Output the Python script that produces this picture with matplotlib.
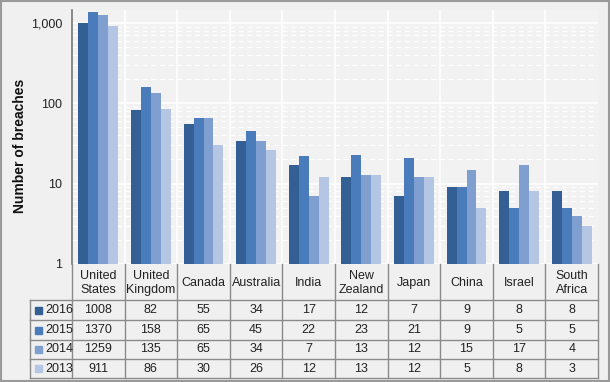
import matplotlib
matplotlib.use("Agg")
import matplotlib.pyplot as plt
import numpy as np
from matplotlib.ticker import FixedLocator, FuncFormatter, LogLocator, NullFormatter
from matplotlib.patches import Rectangle

plt.rcParams['font.family'] = ['Liberation Sans', 'DejaVu Sans']

countries = ["United\nStates", "United\nKingdom", "Canada", "Australia", "India",
             "New\nZealand", "Japan", "China", "Israel", "South\nAfrica"]
years = ["2016", "2015", "2014", "2013"]
v2016 = [1008, 82, 55, 34, 17, 12, 7, 9, 8, 8]
v2015 = [1370, 158, 65, 45, 22, 23, 21, 9, 5, 5]
v2014 = [1259, 135, 65, 34, 7, 13, 12, 15, 17, 4]
v2013 = [911, 86, 30, 26, 12, 13, 12, 5, 8, 3]
series = [v2016, v2015, v2014, v2013]
colors = ["#345f95", "#4a7bbb", "#7f9fd0", "#b5c6e4"]

W, H = 610, 382
fig = plt.figure(figsize=(W / 100, H / 100), dpi=100)
fig.patch.set_facecolor("#f0f0f0")

def fx(px):
    return px / W

def fy(py):
    return 1 - py / H

ax_l, ax_r, ax_t, ax_b = 72, 598, 10, 264
ax = fig.add_axes([fx(ax_l), fy(ax_b), fx(ax_r - ax_l), fy(ax_t) - fy(ax_b)])
ax.set_facecolor("#f2f2f2")
n = len(countries)
x = np.arange(n)
bw = 0.19
for i, (s, c) in enumerate(zip(series, colors)):
    ax.bar(x + (i - 1.5) * bw, s, width=bw, color=c, zorder=3)
ax.set_yscale("log")
ax.set_ylim(1, 1450)
ax.set_xlim(-0.5, n - 0.5)
ax.yaxis.set_major_locator(FixedLocator([1, 10, 100, 1000]))
ax.yaxis.set_major_formatter(FuncFormatter(lambda v, p: f"{int(v):,}"))
ax.yaxis.set_minor_locator(LogLocator(base=10, subs=np.arange(2, 10)))
ax.yaxis.set_minor_formatter(NullFormatter())
ax.grid(True, which="major", axis="y", color="white", lw=1.2, zorder=1)
ax.grid(True, which="minor", axis="y", color="white", lw=0.9, ls=(0, (4, 3)), zorder=1)
for b in np.arange(0.5, n - 0.5, 1):
    ax.axvline(b, color="white", lw=1.2, zorder=1)
ax.set_xticks([])
ax.tick_params(axis="y", which="major", length=0, labelsize=9,
               labelcolor="#222222", pad=7)
ax.tick_params(axis="y", which="minor", length=0)
for sp in ["top", "right", "bottom"]:
    ax.spines[sp].set_visible(False)
ax.spines["left"].set_color("#777777")
ax.spines["left"].set_linewidth(1.2)
fig.text(fx(20), fy(146), "Number of breaches", rotation=90, ha="center", va="center",
         fontsize=10, fontweight="bold", color="#111111")

# table
lc = "#8a8a8a"
col_w = (ax_r - ax_l) / n
row_tops = [300, 320, 340, 359, 378]
leg_l = 30

def hline(y, x0, x1):
    fig.add_artist(plt.Line2D([fx(x0), fx(x1)], [fy(y), fy(y)], color=lc, lw=1))

def vline(xp, y0, y1):
    fig.add_artist(plt.Line2D([fx(xp), fx(xp)], [fy(y0), fy(y1)], color=lc, lw=1))

for k in range(n + 1):
    vline(ax_l + k * col_w, ax_b, row_tops[-1])
vline(leg_l, row_tops[0], row_tops[-1])
for yv in row_tops:
    hline(yv, leg_l, ax_r)

for k, name in enumerate(countries):
    cx = ax_l + (k + 0.5) * col_w
    fig.text(fx(cx), fy((ax_b + row_tops[0]) / 2 + 1), name, ha="center", va="center",
             fontsize=9, color="#222222", linespacing=1.15)
for r, (yr, s, c) in enumerate(zip(years, series, colors)):
    cy = (row_tops[r] + row_tops[r + 1]) / 2
    fig.add_artist(Rectangle((fx(35), fy(cy + 3.5)), fx(7), fy(cy - 3.5) - fy(cy + 3.5),
                             color=c, transform=fig.transFigure))
    fig.text(fx(45), fy(cy), yr, ha="left", va="center", fontsize=9, color="#222222")
    for k, v in enumerate(s):
        cx = ax_l + (k + 0.5) * col_w
        fig.text(fx(cx), fy(cy), str(v), ha="center", va="center", fontsize=9, color="#222222")

# outer border
fig.add_artist(Rectangle((0.001, 0.002), 0.997, 0.996, fill=False, ec="#9a9a9a", lw=1.5,
                         transform=fig.transFigure))

fig.savefig("out.png", dpi=100, facecolor=fig.get_facecolor())
